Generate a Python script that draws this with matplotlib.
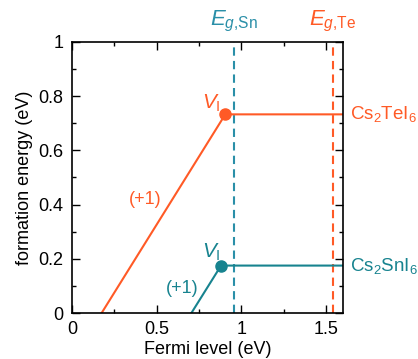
import matplotlib
matplotlib.use('Agg')
import matplotlib.pyplot as plt
import numpy as np

plt.rcParams['font.family'] = ['Liberation Sans', 'DejaVu Sans']
plt.rcParams['mathtext.fontset'] = 'custom'
plt.rcParams['mathtext.rm'] = 'Liberation Sans'
plt.rcParams['mathtext.it'] = 'Liberation Sans:italic'

# colours
c_te = '#ff5a26'
c_sn = '#17838f'
c_sn_gap = '#2a8fa8'

# formation energy lines (Fermi level, energy)
te_x = [0.175, 0.905, 1.6]
te_y = [0.0, 0.733, 0.733]
sn_x = [0.705, 0.88, 1.6]
sn_y = [0.0, 0.175, 0.175]

# band gaps
eg_sn = 0.955
eg_te = 1.54

fig = plt.figure(figsize=(4.18, 3.59), dpi=100)
ax = fig.add_axes([72/418, 46/359, 271/418, 271/359])

ax.axvline(eg_sn, color=c_sn_gap, ls=(0, (4, 2.5)), lw=1.5)
ax.axvline(eg_te, color=c_te, ls=(0, (4, 2.5)), lw=1.5)

ax.plot(te_x, te_y, color=c_te, lw=1.5)
ax.plot(sn_x, sn_y, color=c_sn, lw=1.5)
ax.plot(te_x[1], te_y[1], 'o', color=c_te, ms=8)
ax.plot(sn_x[1], sn_y[1], 'o', color=c_sn, ms=8)

ax.set_xlim(0, 1.6)
ax.set_ylim(0, 1)
ax.set_xticks([0, 0.5, 1, 1.5])
ax.set_xticklabels(['0', '0.5', '1', '1.5'])
ax.set_yticks([0, 0.2, 0.4, 0.6, 0.8, 1])
ax.set_yticklabels(['0', '0.2', '0.4', '0.6', '0.8', '1'])
ax.set_xticks(np.arange(0.25, 1.6, 0.5), minor=True)
ax.set_yticks(np.arange(0.1, 1.0, 0.2), minor=True)
ax.tick_params(which='both', direction='in', top=True, right=True,
               labelsize=13, width=1)
ax.tick_params(which='major', length=6, pad=6)
ax.tick_params(which='minor', length=3)
for s in ax.spines.values():
    s.set_linewidth(1.2)

ax.set_xlabel('Fermi level (eV)', fontsize=13, labelpad=2)
ax.set_ylabel('formation energy (eV)', fontsize=13, labelpad=4)

ax.text(0.43, 0.42, '(+1)', color=c_te, fontsize=13, ha='center', va='center')
ax.text(0.65, 0.092, '(+1)', color=c_sn, fontsize=13, ha='center', va='center')
ax.text(0.82, 0.775, r'$V_{\mathrm{I}}$', color=c_te, fontsize=15, ha='center', va='center')
ax.text(0.82, 0.225, r'$V_{\mathrm{I}}$', color=c_sn, fontsize=15, ha='center', va='center')

ax.text(1.64, 0.733, r'Cs$_2$TeI$_6$', color=c_te, fontsize=13.5, ha='left', va='center', clip_on=False)
ax.text(1.64, 0.175, r'Cs$_2$SnI$_6$', color=c_sn, fontsize=13.5, ha='left', va='center', clip_on=False)
ax.text(eg_sn, 1.03, r'$E_{g{,}\mathrm{Sn}}$', color=c_sn_gap, fontsize=16, ha='center', va='bottom', clip_on=False)
ax.text(eg_te, 1.03, r'$E_{g{,}\mathrm{Te}}$', color=c_te, fontsize=16, ha='center', va='bottom', clip_on=False)

fig.savefig('out.png', dpi=100)
